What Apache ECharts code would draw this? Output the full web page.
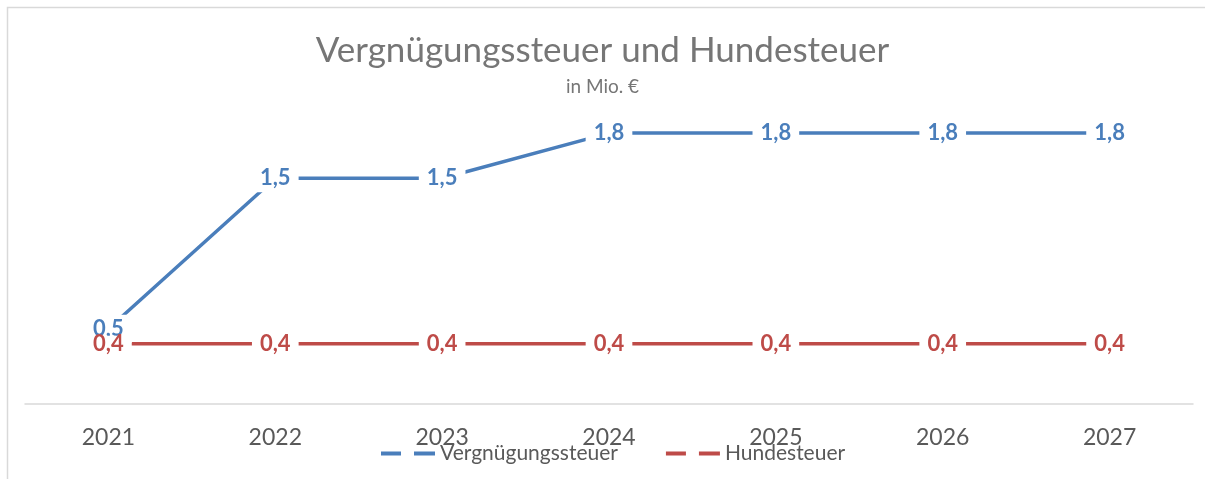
<!DOCTYPE html>
<html>
<head>
<meta charset="utf-8">
<script src="https://cdn.jsdelivr.net/npm/echarts@6/dist/echarts.min.js"></script>
<style>
  html, body { margin: 0; padding: 0; background: #fff; }
  #chart { width: 1205px; height: 479px; }
</style>
</head>
<body>
<div id="chart"></div>
<script>
// Daten
const years = ['2021', '2022', '2023', '2024', '2025', '2026', '2027']
const vergnuegungssteuer = [0.5, 1.5, 1.5, 1.8, 1.8, 1.8, 1.8]
const hundesteuer = [0.4, 0.4, 0.4, 0.4, 0.4, 0.4, 0.4]

const FONT = 'Lato, "Open Sans", sans-serif'
const BLUE = '#4a7ebb'
const RED = '#be4b48'
const dashIcon = 'path://M0 0h20v4H0zM33 0h21v4H33z'

const chart = echarts.init(document.getElementById('chart'))

// Label mit Komma statt Punkt
const labelOpt = (color, pad) => ({
  show: true,
  position: 'inside',
  formatter: (p) => String(p.value).replace('.', ','),
  color: color,
  fontFamily: FONT,
  fontWeight: 'bold',
  fontSize: 22,
  lineHeight: 16,
  backgroundColor: '#fff',
  padding: pad
})

const option = {
  animation: false,
  backgroundColor: '#fff',
  title: {
    text: 'Vergnügungssteuer und Hundesteuer',
    subtext: 'in Mio. €',
    left: 'center',
    top: 28,
    itemGap: 9,
    textStyle: { fontFamily: FONT, fontWeight: 'normal', fontSize: 35, color: '#767676' },
    subtextStyle: { fontFamily: FONT, fontSize: 19, color: '#767676' }
  },
  graphic: [{
    type: 'rect',
    shape: { x: 7.5, y: 7.5, width: 1210, height: 490 },
    style: { fill: 'none', stroke: '#d9d9d9', lineWidth: 1.5 },
    silent: true
  }],
  legend: {
    left: 376,
    top: 438,
    itemWidth: 54,
    itemHeight: 4,
    itemGap: 48,
    textStyle: { fontFamily: FONT, fontSize: 21, color: '#595959' },
    data: [
      { name: 'Vergnügungssteuer', icon: dashIcon },
      { name: 'Hundesteuer', icon: dashIcon }
    ]
  },
  grid: { left: 25, right: 12, top: 103, bottom: 75 },
  xAxis: {
    type: 'category',
    data: years,
    axisLine: { lineStyle: { color: '#d9d9d9', width: 1.5 } },
    axisTick: { show: false },
    axisLabel: { color: '#595959', fontFamily: FONT, fontSize: 23, margin: 22 }
  },
  yAxis: {
    type: 'value',
    min: 0,
    max: 2,
    show: false,
    splitLine: { show: false }
  },
  series: [
    {
      name: 'Vergnügungssteuer',
      type: 'line',
      data: vergnuegungssteuer,
      color: BLUE,
      symbol: 'circle',
      symbolSize: 2,
      lineStyle: { width: 3.5, color: BLUE },
      label: labelOpt(BLUE, [6, 8])
    },
    {
      name: 'Hundesteuer',
      type: 'line',
      data: hundesteuer,
      color: RED,
      symbol: 'circle',
      symbolSize: 2,
      lineStyle: { width: 3.5, color: RED },
      label: labelOpt(RED, [0, 8])
    }
  ]
}
chart.setOption(option)
</script>
</body>
</html>
